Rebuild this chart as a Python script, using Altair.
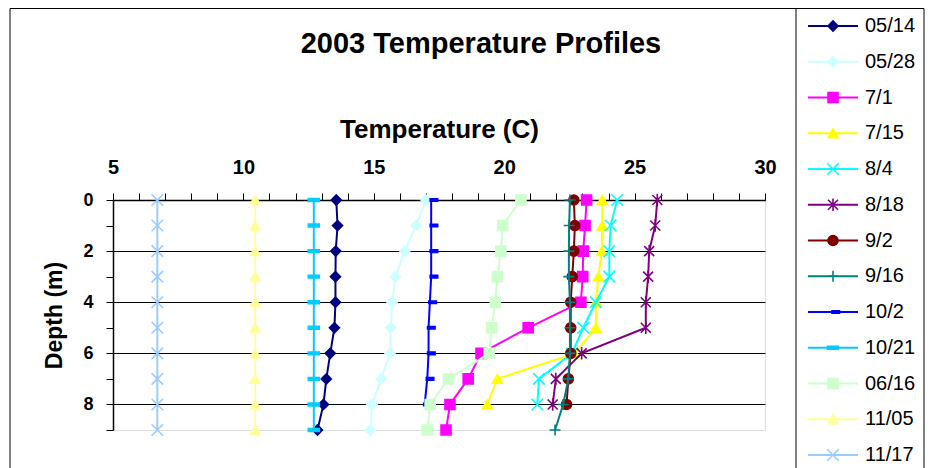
import altair as alt
import pandas as pd

series_names = ["05/14", "05/28", "7/1", "7/15", "8/4", "8/18", "9/2",
                "9/16", "10/2", "10/21", "06/16", "11/05", "11/17"]
colors = ["#000080", "#CCFFFF", "#FF00FF", "#FFFF00", "#00FFFF", "#800080",
          "#800000", "#008080", "#0000FF", "#00CCFF", "#CCFFCC", "#FFFF99",
          "#99CCFF"]
X_PATH = "M-1.15,-1.15L1.15,1.15M-1.15,1.15L1.15,-1.15"
AST_PATH = "M-1,-1L1,1M-1,1L1,-1M0,-1.25L0,1.25"
PLUS_PATH = "M-1.1,0L1.1,0M0,-1.1L0,1.1"
SHORT_DASH = "M-0.2,-0.25H1.3V0.25H-0.2Z"
DASH = "M-1.1,-0.28H1.1V0.28H-1.1Z"
shapes = ["diamond", "diamond", "square", "triangle-up", X_PATH, AST_PATH,
          "circle", PLUS_PATH, SHORT_DASH, DASH, "square", "triangle-up", X_PATH]

depths = [0, 1, 2, 3, 4, 5, 6, 7, 8, 9]
t_0514 = [13.56, 13.61, 13.54, 13.53, 13.53, 13.49, 13.33, 13.18, 13.07, 12.84]
t_0528 = [17.00, 16.62, 16.19, 15.83, 15.70, 15.65, 15.62, 15.28, 14.93, 14.86]
t_0701 = [23.16, 23.10, 23.03, 23.01, 22.94, 20.92, 19.11, 18.62, 17.92, 17.77]
t_0715 = [23.76, 23.76, 23.74, 23.61, 23.52, 23.51, 22.70, 19.74, 19.35]
t_0804 = [24.33, 24.08, 24.03, 24.03, 23.51, 23.03, 22.60, 21.33, 21.27]
t_0818 = [25.87, 25.79, 25.56, 25.52, 25.43, 25.43, 22.97, 21.98, 21.86]
t_0902 = [22.67, 22.71, 22.67, 22.61, 22.55, 22.55, 22.55, 22.46, 22.39]
t_0916 = [22.52, 22.49, 22.48, 22.48, 22.52, 22.52, 22.52, 22.46, 22.26, 21.95]
t_1002 = [17.20, 17.20, 17.20, 17.20, 17.15, 17.10, 17.10, 17.05, 16.95]
t_1021 = [12.70, 12.70, 12.70, 12.70, 12.70, 12.70, 12.70, 12.70, 12.70, 12.70]
t_0616 = [20.64, 19.94, 19.87, 19.74, 19.66, 19.52, 19.43, 17.86, 17.16, 17.05]
t_1105 = [10.45, 10.45, 10.45, 10.45, 10.45, 10.45, 10.45, 10.45, 10.45, 10.45]
t_1117 = [6.70, 6.70, 6.70, 6.70, 6.70, 6.70, 6.70, 6.70, 6.70, 6.70]

x_ticks = [5, 6, 7, 8, 9, 10, 11, 12, 13, 14, 15, 16, 17, 18, 19, 20, 21, 22,
           23, 24, 25, 26, 27, 28, 29, 30]
y_ticks = [0, 1, 2, 3, 4, 5, 6, 7, 8, 9]

all_series = [t_0514, t_0528, t_0701, t_0715, t_0804, t_0818, t_0902, t_0916,
              t_1002, t_1021, t_0616, t_1105, t_1117]
rows = []
for name, vals in zip(series_names, all_series):
    for d, v in zip(depths, vals):
        rows.append({"series": name, "depth": d, "temp": v})
df = pd.DataFrame(rows)

FONT = "Liberation Sans"

color_scale = alt.Scale(domain=series_names, range=colors)
shape_scale = alt.Scale(domain=series_names, range=shapes)

x_enc = alt.X(
    "temp:Q",
    scale=alt.Scale(domain=[5, 30], nice=False, zero=False),
    axis=alt.Axis(
        orient="top", values=x_ticks,
        labelExpr="datum.value % 5 === 0 ? datum.label : ''",
        title="Temperature (C)", titleFontSize=26, titleFontWeight="bold",
        titleFont=FONT, titleColor="black",
        labelFontSize=20, labelFontWeight="bold", labelFont=FONT,
        labelColor="black", labelFlush=False, labelOverlap=False,
        tickSize=7, tickColor="black", domainColor="black", domainWidth=1.5,
        labelPadding=16, titlePadding=15, grid=False,
    ),
)
y_enc = alt.Y(
    "depth:Q",
    scale=alt.Scale(domain=[0, 9], reverse=True, nice=False, zero=False),
    axis=alt.Axis(
        values=y_ticks,
        labelExpr="datum.value % 2 === 0 ? datum.label : ''",
        title="Depth (m)", titleFontSize=23, titleFontWeight="bold",
        titleFont=FONT, titleColor="black",
        labelFontSize=18, labelFontWeight="bold", labelFont=FONT,
        labelColor="black", labelFlush=False, labelOverlap=False,
        tickSize=7, tickColor="black", domainColor="black", domainWidth=1.5,
        labelPadding=13, titlePadding=16,
        grid=True, gridColor="black", gridWidth=1,
        gridOpacity={"condition": {"test": "datum.value % 2 === 1", "value": 0},
                     "value": 1},
    ),
)

base = alt.Chart(df)
data_layers = []
for s in series_names:
    sub = base.transform_filter(alt.datum.series == s)
    line = sub.mark_line(strokeWidth=2).encode(
        x=x_enc, y=y_enc,
        color=alt.Color("series:N", scale=color_scale, legend=None),
        order=alt.Order("depth:Q"),
    )
    pts = sub.mark_point(filled=True, size=100, strokeWidth=1.6, opacity=1).encode(
        x=x_enc, y=y_enc,
        color=alt.Color("series:N", scale=color_scale, legend=None),
        stroke=alt.Stroke("series:N", scale=color_scale, legend=None),
        shape=alt.Shape("series:N", scale=shape_scale, legend=None),
    )
    data_layers += [line, pts]
data_layer = alt.layer(*data_layers)

# legend built from the series list
legend_df = pd.DataFrame({"series": series_names})
ly = alt.Y("series:N", sort=series_names,
           scale=alt.Scale(type="point", domain=series_names, range=[-174, 255], padding=0),
           axis=None)
lbase = alt.Chart(legend_df)
leg_rule = lbase.mark_rule(strokeWidth=2).encode(
    x=alt.value(695), x2=alt.value(745), y=ly,
    color=alt.Color("series:N", scale=color_scale, legend=None),
)
leg_pts = lbase.mark_point(filled=True, size=100, strokeWidth=1.6, opacity=1).encode(
    x=alt.value(720), y=ly,
    color=alt.Color("series:N", scale=color_scale, legend=None),
    stroke=alt.Stroke("series:N", scale=color_scale, legend=None),
    shape=alt.Shape("series:N", scale=shape_scale, legend=None),
)
leg_text = lbase.mark_text(align="left", baseline="middle", fontSize=20,
                           font=FONT, color="black").encode(
    x=alt.value(752), y=ly, text="series:N",
)
frame_df = pd.DataFrame({"k": [0]})
frame = alt.Chart(frame_df).mark_rect(fill="transparent", stroke="black",
                                      strokeWidth=1).encode(
    x=alt.value(-103), x2=alt.value(811), y=alt.value(-191.5), y2=alt.value(320),
)
divider = alt.Chart(frame_df).mark_rule(stroke="black", strokeWidth=1).encode(
    x=alt.value(683), y=alt.value(-191.5), y2=alt.value(320),
)
legend_layer = alt.layer(leg_rule, leg_pts, leg_text, frame, divider)

chart = alt.layer(data_layer, legend_layer).resolve_scale(
    y="independent"
).properties(
    width=652, height=230,
    title=alt.TitleParams("2003 Temperature Profiles", fontSize=29,
                          fontWeight="bold", font=FONT, color="black",
                          anchor="middle", dx=42, offset=-51),
    padding={"left": 105, "top": 192, "right": 161, "bottom": 38},
    autosize=alt.AutoSizeParams(type="none"),
).configure_view(
    fill="#C0C0C0", stroke="#808080", strokeWidth=1.5,
).configure(background="white")

chart.save("out.html", embed_options={"renderer": "svg", "actions": False})
